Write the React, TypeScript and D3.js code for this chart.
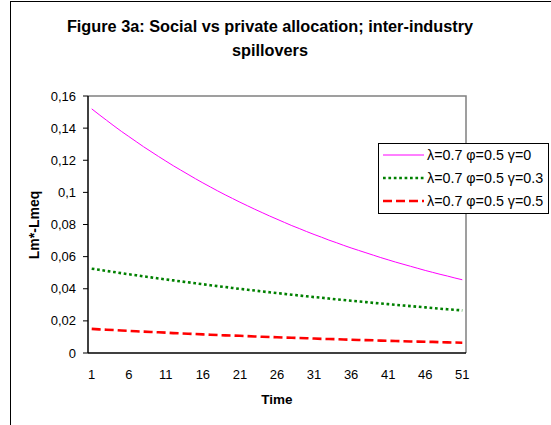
import React from "react";
import * as d3 from "d3";

const periods: number[] = Array.from({ length: 51 }, (_, i) => i + 1);

const seriesNames: string[] = [
  "λ=0.7 φ=0.5 γ=0",
  "λ=0.7 φ=0.5 γ=0.3",
  "λ=0.7 φ=0.5 γ=0.5",
];

const gamma0: number[] = [
  0.152, 0.1484, 0.1449, 0.1414, 0.138, 0.1348, 0.1316, 0.1284, 0.1254, 0.1224,
  0.1195, 0.1166, 0.1139, 0.1112, 0.1085, 0.1059, 0.1034, 0.1009, 0.0985, 0.0962,
  0.0939, 0.0917, 0.0895, 0.0874, 0.0853, 0.0833, 0.0813, 0.0793, 0.0775, 0.0756,
  0.0738, 0.0721, 0.0703, 0.0687, 0.067, 0.0654, 0.0639, 0.0624, 0.0609, 0.0594,
  0.058, 0.0566, 0.0553, 0.054, 0.0527, 0.0514, 0.0502, 0.049, 0.0479, 0.0467,
  0.0456,
];

const gamma03: number[] = [
  0.0525, 0.0518, 0.0511, 0.0504, 0.0497, 0.049, 0.0484, 0.0477, 0.0471, 0.0464,
  0.0458, 0.0452, 0.0446, 0.044, 0.0434, 0.0428, 0.0422, 0.0416, 0.0411, 0.0405,
  0.0399, 0.0394, 0.0389, 0.0383, 0.0378, 0.0373, 0.0368, 0.0363, 0.0358, 0.0353,
  0.0348, 0.0344, 0.0339, 0.0334, 0.033, 0.0325, 0.0321, 0.0317, 0.0312, 0.0308,
  0.0304, 0.03, 0.0296, 0.0292, 0.0288, 0.0284, 0.028, 0.0276, 0.0272, 0.0269,
  0.0265,
];

const gamma05: number[] = [
  0.015, 0.0147, 0.0145, 0.0143, 0.014, 0.0138, 0.0135, 0.0133, 0.0131, 0.0129,
  0.0127, 0.0124, 0.0122, 0.012, 0.0118, 0.0116, 0.0114, 0.0112, 0.011, 0.0109,
  0.0107, 0.0105, 0.0103, 0.0101, 0.01, 0.0098, 0.0096, 0.0095, 0.0093, 0.0092,
  0.009, 0.0088, 0.0087, 0.0086, 0.0084, 0.0083, 0.0081, 0.008, 0.0079, 0.0077,
  0.0076, 0.0075, 0.0073, 0.0072, 0.0071, 0.007, 0.0069, 0.0067, 0.0066, 0.0065,
  0.0064,
];

const yTicks: number[] = [0, 0.02, 0.04, 0.06, 0.08, 0.1, 0.12, 0.14, 0.16];
const xTickLabels: number[] = [1, 6, 11, 16, 21, 26, 31, 36, 41, 46, 51];

const styles = [
  { color: "#FF00FF", width: 1, dash: "" },
  { color: "#008000", width: 2.6, dash: "2.7,2.7" },
  { color: "#FF0000", width: 2.6, dash: "9,4" },
];

const FONT = "Arial, 'Liberation Sans', sans-serif";

export default function App() {
  const left = 88, right = 466, top = 96, bottom = 353;
  const x = d3.scaleBand<number>().domain(periods).range([left, right]);
  const y = d3.scaleLinear().domain([0, 0.16]).range([bottom, top]);
  const cx = (p: number) => (x(p) as number) + x.bandwidth() / 2;
  const fmt = (v: number) => (v === 0 ? "0" : String(+v.toFixed(2)).replace(".", ","));
  const allSeries = [gamma0, gamma03, gamma05];
  const line = (vals: number[]) =>
    d3.line<number>().x((_, i) => cx(periods[i])).y((v) => y(v))(vals) || "";

  return (
    <svg width={551} height={425} style={{ position: "absolute", left: 0, top: 0, background: "#fff" }} fontFamily={FONT}>
      <rect x={10.5} y={1.5} width={600} height={500} fill="#fff" stroke="#000" strokeWidth={1} />
      <text x={270} y={32} textAnchor="middle" fontSize={16.3} fontWeight="bold">
        Figure 3a: Social vs private allocation; inter-industry
      </text>
      <text x={270} y={56} textAnchor="middle" fontSize={16.3} fontWeight="bold">
        spillovers
      </text>

      {/* plot border */}
      <path d={`M${left},${top}H${right}V${bottom}`} fill="none" stroke="#808080" strokeWidth={1.5} />
      {/* y axis */}
      <line x1={left} x2={left} y1={top} y2={bottom} stroke="#000" strokeWidth={1.5} />
      {yTicks.map((t) => (
        <g key={t}>
          <line x1={left - 5} x2={left} y1={y(t)} y2={y(t)} stroke="#000" />
          <text x={76} y={y(t)} dy="0.35em" textAnchor="end" fontSize={13}>
            {fmt(t)}
          </text>
        </g>
      ))}
      {/* x axis */}
      <line x1={left} x2={right} y1={bottom} y2={bottom} stroke="#000" strokeWidth={1.5} />
      {xTickLabels.map((p) => (
        <text key={p} x={cx(p)} y={379} textAnchor="middle" fontSize={13}>
          {p}
        </text>
      ))}
      <text x={277} y={404} textAnchor="middle" fontSize={13.5} fontWeight="bold">
        Time
      </text>
      <text transform="translate(39,225) rotate(-90)" textAnchor="middle" fontSize={14} fontWeight="bold">
        Lm*-Lmeq
      </text>

      {allSeries.map((vals, i) => (
        <path key={i} d={line(vals)} fill="none" stroke={styles[i].color} strokeWidth={styles[i].width}
          strokeDasharray={styles[i].dash || undefined} />
      ))}

      {/* legend */}
      <rect x={378.5} y={143.5} width={170} height={70} fill="#fff" stroke="#000" strokeWidth={1} />
      {seriesNames.map((n, i) => {
        const ly = 155 + i * 23;
        return (
          <g key={n}>
            <line x1={383} x2={424} y1={ly} y2={ly} stroke={styles[i].color} strokeWidth={styles[i].width}
              strokeDasharray={styles[i].dash || undefined} />
            <text x={427} y={ly} dy="0.35em" fontSize={14.3}>
              {n}
            </text>
          </g>
        );
      })}
    </svg>
  );
}
